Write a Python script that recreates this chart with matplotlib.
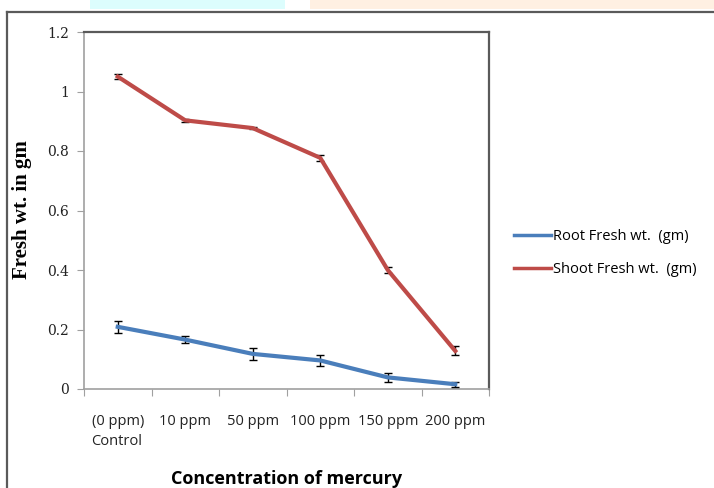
import numpy as np
import matplotlib.pyplot as plt
from matplotlib.lines import Line2D
from matplotlib.patches import Rectangle

# Data
categories = ['(0 ppm)\nControl', '10 ppm', '50 ppm', '100 ppm', '150 ppm', '200 ppm']
root_fresh = [0.209, 0.166, 0.118, 0.096, 0.039, 0.016]
root_err = [0.021, 0.013, 0.020, 0.019, 0.015, 0.008]
shoot_fresh = [1.050, 0.903, 0.877, 0.777, 0.400, 0.128]
shoot_err = [0.008, 0.005, 0.004, 0.010, 0.009, 0.015]
yticks = [0, 0.2, 0.4, 0.6, 0.8, 1, 1.2]
ytick_labels = ['0', '0.2', '0.4', '0.6', '0.8', '1', '1.2']

root_color = '#4a7ebb'
shoot_color = '#be4b48'

W, H = 714, 488
fig = plt.figure(figsize=(W / 100, H / 100), dpi=100)

# faint watermark shapes at the very top
fig.add_artist(Rectangle((90 / W, 1 - 9 / H), 195 / W, 9 / H, transform=fig.transFigure,
                         color='#dcfdfd', lw=0))
fig.add_artist(Rectangle((310 / W, 1 - 9 / H), 404 / W, 9 / H, transform=fig.transFigure,
                         color='#fff0e2', lw=0))

# outer chart frame (left and top edges visible)
fig.add_artist(Line2D([7 / W, 7 / W], [0, 1 - 12 / H], transform=fig.transFigure,
                      color='#5a5a5a', lw=1.6))
fig.add_artist(Line2D([7 / W, 1], [1 - 12 / H, 1 - 12 / H], transform=fig.transFigure,
                      color='#5a5a5a', lw=1.6))

ax = fig.add_axes([84 / W, (H - 389) / H, (489 - 84) / W, (389 - 32) / H])

x = np.arange(len(categories))
ax.errorbar(x, root_fresh, yerr=root_err, color=root_color, lw=3, ecolor='black',
            elinewidth=1, capsize=3, capthick=1, zorder=3)
ax.errorbar(x, shoot_fresh, yerr=shoot_err, color=shoot_color, lw=3, ecolor='black',
            elinewidth=1, capsize=3, capthick=1, zorder=3)

ax.set_xlim(-0.5, len(categories) - 0.5)
ax.set_ylim(0, 1.2)

# category boundaries carry the tick marks, labels sit in the middle
ax.set_xticks(np.arange(len(categories) + 1) - 0.5)
ax.set_xticklabels([])
ax.set_xticks(x, minor=True)
ax.set_xticklabels(categories, minor=True, fontsize=10.5, family='Open Sans',
                   color='#222222', multialignment='left', linespacing=1.45)
ax.tick_params(axis='x', which='minor', length=0, pad=18)
ax.tick_params(axis='x', which='major', length=5, color='#a0a0a0', direction='out')

ax.set_yticks(yticks)
ax.set_yticklabels(ytick_labels, fontsize=10, family='DejaVu Serif', color='#222222')
ax.tick_params(axis='y', length=5, color='#a0a0a0', direction='out', pad=6)

for side in ['left', 'bottom']:
    ax.spines[side].set_color('#a0a0a0')
    ax.spines[side].set_linewidth(1.2)
for side in ['top', 'right']:
    ax.spines[side].set_color('#5a5a5a')
    ax.spines[side].set_linewidth(1.6)

ax.set_xlabel('Concentration of mercury', fontsize=13, fontweight='bold',
              family='Open Sans', labelpad=15)
fig.text(22 / W, 1 - 210 / H, 'Fresh wt. in gm', rotation=90, ha='center', va='center',
         fontsize=15, fontweight='bold', family='Liberation Serif')

handles = [Line2D([], [], color=root_color, lw=2.5),
           Line2D([], [], color=shoot_color, lw=2.5)]
ax.legend(handles, ['Root Fresh wt.  (gm)', 'Shoot Fresh wt.  (gm)'],
          loc='center left', bbox_to_anchor=(501 / W, 1 - 253 / H),
          bbox_transform=fig.transFigure, frameon=False,
          prop={'family': 'Open Sans', 'size': 10.5}, handlelength=2.5,
          handletextpad=0.15, labelspacing=1.2)

fig.savefig('out.png', dpi=100)
